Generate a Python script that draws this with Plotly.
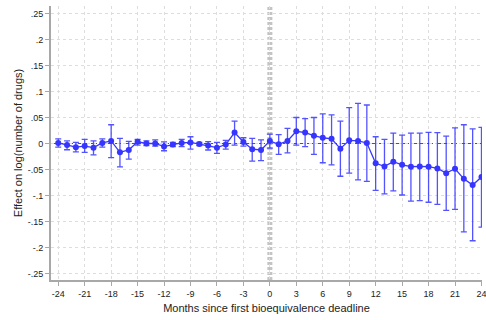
import plotly.graph_objects as go

# Event-study estimates by month relative to the first bioequivalence deadline
months = list(range(-24, 25))
coef = [0.001, -0.003, -0.007, -0.005, -0.008, 0.001, 0.005, -0.017, -0.0125, 0.0035,
        0.000, 0.000, -0.006, -0.002, 0.001, 0.002, -0.001, -0.004, -0.008, -0.002,
        0.021, 0.003, -0.011, -0.0125, 0.005, -0.0015, 0.005, 0.0235, 0.021, 0.015,
        0.011, 0.009, -0.010, 0.006, 0.005, 0.001, -0.038, -0.044, -0.035, -0.041,
        -0.0445, -0.044, -0.0445, -0.048, -0.057, -0.0485, -0.068, -0.080, -0.0645]
ci_hi = [0.009, 0.005, 0.002, 0.008, 0.005, 0.009, 0.036, 0.010, 0.004, 0.008,
         0.005, 0.007, 0.003, 0.002, 0.008, 0.013, 0.002, 0.0035, 0.002, 0.006,
         0.043, 0.011, 0.010, 0.007, 0.018, 0.017, 0.029, 0.050, 0.048, 0.050,
         0.057, 0.055, 0.043, 0.069, 0.077, 0.074, 0.013, 0.008, 0.020, 0.016,
         0.020, 0.020, 0.0215, 0.021, 0.014, 0.030, 0.036, 0.028, 0.031]
ci_lo = [-0.007, -0.012, -0.016, -0.017, -0.022, -0.007, -0.027, -0.045, -0.030, -0.003,
         -0.004, -0.005, -0.014, -0.006, -0.006, -0.011, -0.004, -0.0125, -0.019, -0.011,
         -0.003, -0.005, -0.034, -0.033, -0.009, -0.021, -0.018, -0.003, -0.006, -0.021,
         -0.037, -0.041, -0.063, -0.057, -0.070, -0.073, -0.090, -0.097, -0.091, -0.099,
         -0.111, -0.110, -0.113, -0.117, -0.1285, -0.1265, -0.170, -0.187, -0.161]

y_ticks = [0.25, 0.2, 0.15, 0.1, 0.05, 0, -0.05, -0.1, -0.15, -0.2, -0.25]
y_labels = [".25", ".2", ".15", ".1", ".05", "0", "-.05", "-.1", "-.15", "-.2", "-.25"]
x_ticks = list(range(-24, 25, 3))

blue = "#3535ff"
font = "Liberation Sans, Arial, sans-serif"

fig = go.Figure()

# zero reference line
fig.add_shape(type="line", xref="paper", yref="y", x0=0, x1=1, y0=0, y1=0,
              line=dict(color="#555555", width=1.2, dash="6px,2px"), layer="below")
# deadline marker
fig.add_shape(type="line", xref="x", yref="paper", x0=0, x1=0, y0=0, y1=1,
              line=dict(color="#c4c4c4", width=5, dash="3px,2px"), layer="below")

fig.add_trace(go.Scatter(
    x=months, y=coef, mode="lines+markers",
    line=dict(color=blue, width=1.3),
    marker=dict(color=blue, size=6),
    error_y=dict(type="data", symmetric=False,
                 array=[h - c for h, c in zip(ci_hi, coef)],
                 arrayminus=[c - l for c, l in zip(coef, ci_lo)],
                 color="rgba(53,53,255,0.85)", thickness=1.3, width=3),
    showlegend=False,
))

fig.update_layout(
    width=486, height=320,
    margin=dict(l=51, r=0, t=6, b=40),
    paper_bgcolor="white", plot_bgcolor="white",
    font=dict(family=font, color="#222222", size=9),
)
fig.update_xaxes(
    range=[-24.82, 24.06], tickvals=x_ticks, ticktext=[str(v) for v in x_ticks],
    showgrid=True, gridcolor="#dddddd", griddash="dot", gridwidth=1,
    showline=True, linecolor="#a8a8a8", linewidth=2,
    ticks="outside", ticklen=4, tickcolor="#a8a8a8", tickwidth=1,
    ticklabeloverflow="allow", zeroline=False,
    title=dict(text="Months since first bioequivalence deadline",
               font=dict(size=11, family=font, color="#222222"), standoff=7),
)
fig.update_yaxes(
    range=[-0.2625, 0.2644], tickvals=y_ticks, ticktext=y_labels,
    showgrid=True, gridcolor="#dddddd", griddash="dot", gridwidth=1,
    showline=True, linecolor="#a8a8a8", linewidth=2,
    ticks="outside", ticklen=4, tickcolor="#a8a8a8", tickwidth=1,
    zeroline=False,
    title=dict(text="Effect on log(number of drugs)",
               font=dict(size=11, family=font, color="#222222"), standoff=3),
)

fig.write_html("out.html")
